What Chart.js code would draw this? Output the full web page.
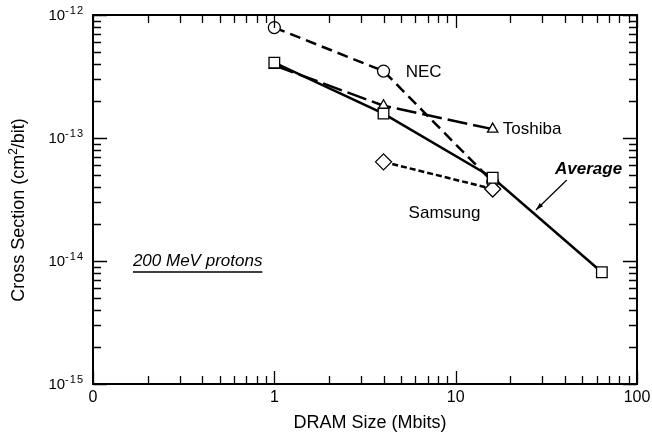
<!DOCTYPE html>
<html>
<head>
<meta charset="utf-8">
<script src="https://cdn.jsdelivr.net/npm/chart.js@4/dist/chart.umd.min.js"></script>
<style>
    html, body { margin: 0; padding: 0; background: #fff; }
    #wrap { width: 652px; height: 432px; }
</style>
</head>
<body>
<div id="wrap"><canvas id="seuChart" width="652" height="432"></canvas></div>
<script>
// ============================================
// Data
// ============================================
const necSize = [1, 4, 16];
const necCross = [7.9e-13, 3.5e-13, 4.4e-14];

const toshibaSize = [1, 4, 16];
const toshibaCross = [3.9e-13, 1.83e-13, 1.18e-13];

const samsungSize = [4, 16];
const samsungCross = [6.4e-14, 3.85e-14];

const averageSize = [1, 4, 16, 64];
const averageCross = [4.1e-13, 1.58e-13, 4.75e-14, 8.1e-15];

const xTicks = [0.1, 1, 10, 100];
const xTickLabels = ['0', '1', '10', '100'];
const yTicks = [1e-15, 1e-14, 1e-13, 1e-12];
const yTickExps = ['-15', '-14', '-13', '-12'];

const FONT = '"Liberation Sans", Arial, sans-serif';

function pts(xs, ys) {
    return xs.map((x, i) => ({ x: x, y: ys[i] }));
}

// ============================================
// Frame, ticks, labels and notes
// ============================================
const framePlugin = {
    id: 'frame',
    afterDraw(chart) {
        const { ctx, chartArea: a, scales: { x, y } } = chart;
        ctx.save();
        ctx.strokeStyle = '#000';
        ctx.fillStyle = '#000';

        // minor + major ticks, inside, on all four sides
        ctx.lineWidth = 1.3;
        ctx.beginPath();
        for (let d = 0.1; d < 100; d *= 10) {
            for (let m = 1; m <= 10; m++) {
                const v = d * m;
                const px = Math.round(x.getPixelForValue(v)) + 0.5;
                const len = (m === 1 || m === 10) ? 13 : 8;
                ctx.moveTo(px, a.bottom); ctx.lineTo(px, a.bottom - len);
                ctx.moveTo(px, a.top); ctx.lineTo(px, a.top + len);
            }
        }
        for (let d = 1e-15; d < 1e-12 * 0.99; d *= 10) {
            for (let m = 1; m <= 10; m++) {
                const v = d * m;
                const py = Math.round(y.getPixelForValue(v)) + 0.5;
                const len = (m === 1 || m === 10) ? 14 : 8;
                ctx.moveTo(a.left, py); ctx.lineTo(a.left + len, py);
                ctx.moveTo(a.right, py); ctx.lineTo(a.right - len, py);
            }
        }
        ctx.stroke();

        // box
        ctx.lineWidth = 2;
        ctx.strokeRect(a.left, a.top, a.right - a.left, a.bottom - a.top);

        // x tick labels
        ctx.font = '16px ' + FONT;
        ctx.textAlign = 'center';
        ctx.textBaseline = 'middle';
        xTicks.forEach((v, i) => {
            ctx.fillText(xTickLabels[i], x.getPixelForValue(v), a.bottom + 14);
        });

        // y tick labels 10^n
        yTicks.forEach((v, i) => {
            const py = y.getPixelForValue(v);
            ctx.font = '11px ' + FONT;
            ctx.letterSpacing = '1px';
            const ew = ctx.measureText(yTickExps[i]).width;
            ctx.textAlign = 'left';
            ctx.fillText(yTickExps[i], a.left - 9 - ew, py - 4);
            ctx.letterSpacing = '0px';
            ctx.font = '15px ' + FONT;
            ctx.textAlign = 'right';
            ctx.fillText('10', a.left - 9 - ew, py + 1);
        });

        // axis titles
        ctx.font = '18px ' + FONT;
        ctx.textAlign = 'center';
        ctx.fillText('DRAM Size (Mbits)', 370, 423);

        ctx.save();
        ctx.translate(19, 210);
        ctx.rotate(-Math.PI / 2);
        const t1 = 'Cross Section (cm', t2 = '2', t3 = '/bit)';
        ctx.font = '18px ' + FONT;
        const w1 = ctx.measureText(t1).width, w3 = ctx.measureText(t3).width;
        ctx.font = '12px ' + FONT;
        const w2 = ctx.measureText(t2).width;
        let sx = -(w1 + w2 + w3) / 2;
        ctx.textAlign = 'left';
        ctx.font = '18px ' + FONT;
        ctx.fillText(t1, sx, 0);
        ctx.font = '12px ' + FONT;
        ctx.fillText(t2, sx + w1, -5);
        ctx.font = '18px ' + FONT;
        ctx.fillText(t3, sx + w1 + w2, 0);
        ctx.restore();

        // series notes
        ctx.textAlign = 'left';
        ctx.font = '17px ' + FONT;
        ctx.fillText('NEC', x.getPixelForValue(5.3), y.getPixelForValue(3.45e-13));
        ctx.fillText('Toshiba', x.getPixelForValue(18.2), y.getPixelForValue(1.18e-13));
        ctx.fillText('Samsung', x.getPixelForValue(5.5), y.getPixelForValue(2.46e-14));
        ctx.font = 'italic bold 17px ' + FONT;
        ctx.fillText('Average', x.getPixelForValue(35.3), y.getPixelForValue(5.6e-14));

        // arrow to the average line
        const ax0 = x.getPixelForValue(41), ay0 = y.getPixelForValue(4.56e-14);
        const ax1 = x.getPixelForValue(27.7), ay1 = y.getPixelForValue(2.6e-14);
        ctx.lineWidth = 1.2;
        ctx.beginPath();
        ctx.moveTo(ax0, ay0); ctx.lineTo(ax1, ay1);
        ctx.stroke();
        const ang = Math.atan2(ay1 - ay0, ax1 - ax0);
        ctx.beginPath();
        ctx.moveTo(ax1, ay1);
        ctx.lineTo(ax1 - 8 * Math.cos(ang - 0.3), ay1 - 8 * Math.sin(ang - 0.3));
        ctx.lineTo(ax1 - 8 * Math.cos(ang + 0.3), ay1 - 8 * Math.sin(ang + 0.3));
        ctx.closePath();
        ctx.fill();

        // condition note
        ctx.font = 'italic 17px ' + FONT;
        const nx = x.getPixelForValue(0.166), ny = y.getPixelForValue(1.0e-14);
        ctx.fillText('200 MeV protons', nx, ny);
        const nw = ctx.measureText('200 MeV protons').width;
        ctx.lineWidth = 1.5;
        ctx.beginPath();
        ctx.moveTo(nx, ny + 11); ctx.lineTo(nx + nw, ny + 11);
        ctx.stroke();

        ctx.restore();
    }
};

// ============================================
// Chart
// ============================================
const ctx = document.getElementById('seuChart').getContext('2d');
new Chart(ctx, {
    type: 'line',
    data: {
        datasets: [
            {
                label: 'Average',
                data: pts(averageSize, averageCross),
                borderColor: '#000',
                borderWidth: 2.5,
                pointStyle: 'rect',
                pointRadius: 7.5,
                pointBorderWidth: 1.3,
                pointBackgroundColor: '#fff',
                pointBorderColor: '#000'
            },
            {
                label: 'Samsung',
                data: pts(samsungSize, samsungCross),
                borderColor: '#000',
                borderWidth: 2.5,
                borderDash: [6, 3],
                pointStyle: 'rectRot',
                pointRadius: 8,
                pointBorderWidth: 1.3,
                pointBackgroundColor: '#fff',
                pointBorderColor: '#000'
            },
            {
                label: 'Toshiba',
                data: pts(toshibaSize, toshibaCross),
                borderColor: '#000',
                borderWidth: 2.5,
                borderDash: [20, 6],
                pointStyle: 'triangle',
                pointRadius: 6,
                pointBorderWidth: 1.3,
                pointBackgroundColor: '#fff',
                pointBorderColor: '#000'
            },
            {
                label: 'NEC',
                data: pts(necSize, necCross),
                borderColor: '#000',
                borderWidth: 2.5,
                borderDash: [11, 6],
                pointStyle: 'circle',
                pointRadius: 6,
                pointBorderWidth: 1.3,
                pointBackgroundColor: '#fff',
                pointBorderColor: '#000'
            }
        ]
    },
    options: {
        responsive: false,
        animation: false,
        layout: { padding: { left: 0, top: 15, right: 15, bottom: 0 } },
        plugins: {
            legend: { display: false },
            tooltip: { enabled: false }
        },
        scales: {
            x: {
                type: 'logarithmic',
                min: 0.1,
                max: 100,
                grid: { display: false, drawTicks: false },
                border: { display: false },
                ticks: { display: false },
                afterFit: s => { s.height = 48; }
            },
            y: {
                type: 'logarithmic',
                min: 1e-15,
                max: 1e-12,
                grid: { display: false, drawTicks: false },
                border: { display: false },
                ticks: { display: false },
                afterFit: s => { s.width = 93; }
            }
        }
    },
    plugins: [framePlugin]
});
</script>
</body>
</html>
